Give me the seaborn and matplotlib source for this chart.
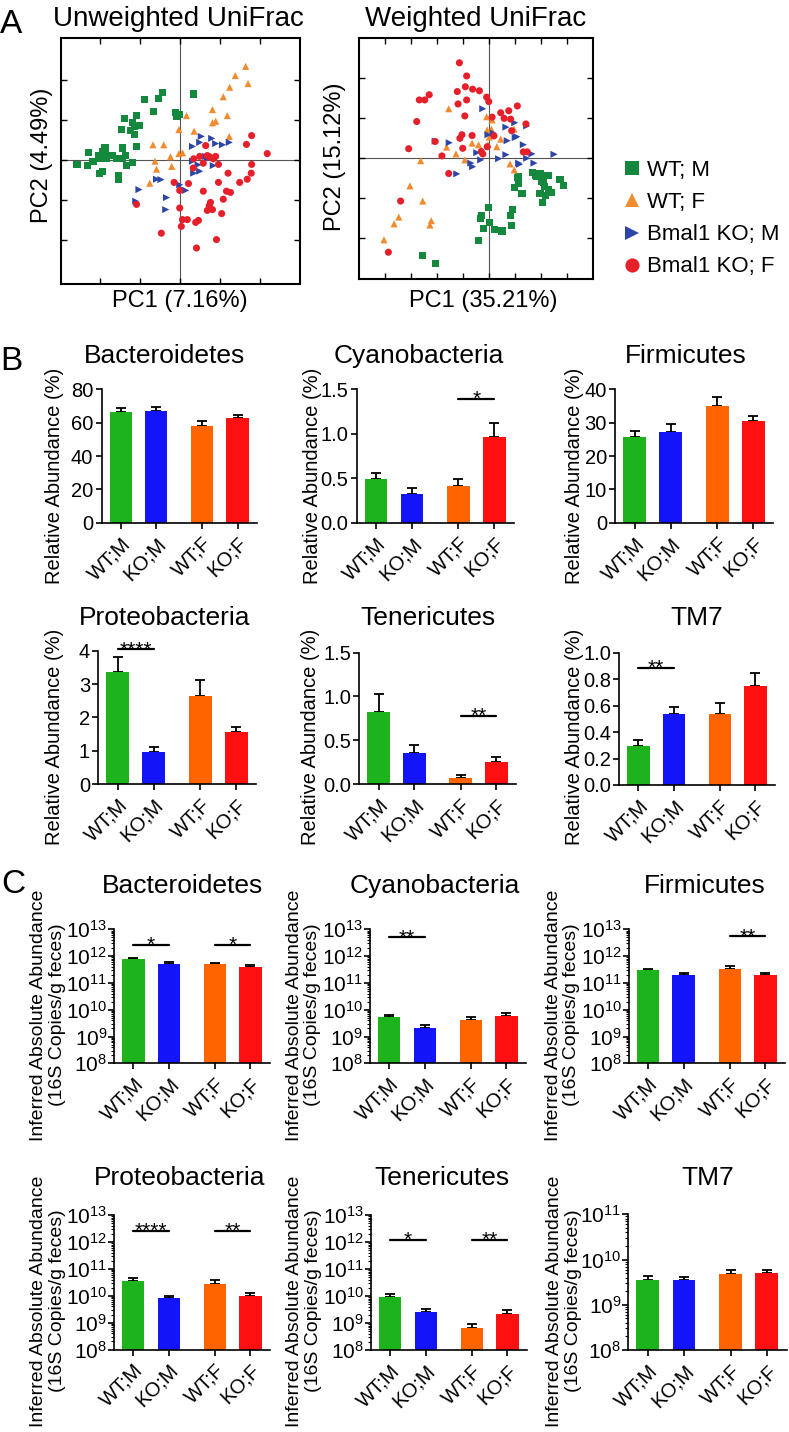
import numpy as np
import pandas as pd
import seaborn as sns
import matplotlib
import matplotlib.pyplot as plt
from matplotlib.ticker import FixedLocator, FormatStrFormatter, LogLocator, NullFormatter

matplotlib.use("Agg")

W, H = 789, 1432

# ---------------- panel A : PCoA scores (tick units) ----------------
SCATTER_GROUPS = ["WT; M", "WT; F", "Bmal1 KO; M", "Bmal1 KO; F"]
SCATTER_COLORS = ["#14893e", "#f28a2e", "#2c46a8", "#e5202a"]
SCATTER_MARKERS = ["s", "^", ">", "o"]

UNW_WTM_X = [-2.58, -2.30, -2.32, -2.18, -2.03, -2.01, -1.93, -1.88, -1.97, -1.84, -1.80, -1.68, -1.59,
             -1.44, -1.36, -1.43, -1.33, -1.19, -1.08, -2.01, -1.94, -1.55, -1.55, -1.47, -1.38, -1.23,
             -1.19, -1.13, -1.09, -1.01, -1.13, -0.90, -0.66, -0.54, -0.43, -0.12, -0.09, -0.01, 0.33]
UNW_WTM_Y = [-0.11, 0.18, -0.14, -0.03, 0.11, 0.03, 0.22, 0.30, 0.09, 0.05, 0.11, 0.11, 0.04,
             0.30, 0.11, 0.03, -0.14, -0.06, 0.33, -0.34, -0.28, -0.39, -0.49, 0.76, 1.03, 0.74,
             0.93, 0.84, 1.11, 0.86, 0.63, 1.51, 1.22, 1.53, 1.69, 1.18, 1.08, 1.13, 1.65]
UNW_WTF_X = [1.64, 1.38, 1.70, 1.24, 1.08, 0.81, 1.18, 0.89, 0.81, 0.16, -0.03, 0.35, 1.23,
             -0.68, -0.41, -0.03, -0.24, -0.63, -0.59, -0.21, -0.76, 0.06]
UNW_WTF_Y = [2.34, 2.11, 1.91, 1.82, 1.58, 1.26, 1.11, 0.97, 0.93, 1.11, 0.76, 0.72, 0.59,
             0.38, 0.38, 0.16, 0.08, -0.03, -0.23, -0.16, -0.58, 0.18]
UNW_KOM_X = [0.53, 0.49, 0.79, 0.89, 1.06, 1.23, 0.31, 0.64, 0.31, 0.45, 0.34, 0.49, 0.83,
             -0.59, -0.48, -1.03, -0.01, 0.06, 0.14, -0.34, -1.11, -0.36, 0.68]
UNW_KOM_Y = [0.59, 0.44, 0.54, 0.41, 0.38, 0.44, 0.34, 0.09, -0.03, -0.12, -0.33, -0.28, -0.14,
             -0.48, -0.49, -0.74, -0.62, -0.73, -0.76, -0.94, -1.03, -1.24, 0.03]
UNW_KOF_X = [1.79, 1.66, 2.18, 0.64, 0.49, 0.68, 0.74, 0.89, 0.83, 0.34, 0.58, 0.96, 1.79, 1.20,
             1.78, 1.68, 1.49, 0.96, -0.15, 0.21, 0.58, -0.01, 1.16, 1.26, 1.08, 0.76, 0.73, 0.81,
             0.68, 1.04, -0.01, 0.06, 0.03, 0.18, 0.39, 0.46, -0.47, 0.41, 0.91, -1.09, 0.33]
UNW_KOF_Y = [0.61, 0.39, 0.16, 0.36, 0.09, 0.11, 0.08, 0.09, 0.03, 0.03, -0.08, -0.11, -0.11, -0.33,
             -0.33, -0.48, -0.56, -0.56, -0.56, -0.59, -0.78, -0.76, -0.78, -0.81, -0.98, -1.06, -1.14, -1.24,
             -1.26, -1.34, -1.20, -1.49, -1.66, -1.49, -1.56, -1.51, -1.83, -2.20, -1.99, -1.11, -0.20]

W_WTM_X = [1.09, 1.12, 1.68, 1.78, 1.96, 1.99, 2.09, -0.03, -0.30, -0.32, 0.01, -0.22, 0.22, 0.50,
           0.81, 0.91, 0.86, -0.40, -2.55, -2.07, 1.83, 2.01, 2.30, 2.73, 2.88, 2.04, 2.12, 2.30,
           2.42, 1.93, 2.17, 2.07, 1.12, 0.99, 1.27]
W_WTM_Y = [-0.48, -0.65, -0.37, -0.45, -0.40, -0.88, -0.62, -1.23, -1.45, -1.51, -1.62, -1.76, -1.80, -1.83,
           -1.45, -1.30, -1.68, -2.07, -2.45, -2.65, -0.47, -0.43, -0.43, -0.53, -0.68, -0.59, -0.72, -0.80,
           -0.87, -0.88, -0.94, -1.12, -0.47, -0.73, -0.90]
W_WTF_X = [-1.55, -0.09, 0.12, -0.07, 0.09, 0.96, 0.45, 0.01, -0.65, -0.40, -0.04, 0.30, -1.63,
           -1.27, -0.93, -2.63, 0.81, -3.04, -2.55, -3.47, -3.65, -2.22, -2.27, -4.04, 0.97]
W_WTF_Y = [1.23, 1.03, 0.95, 0.70, 0.72, 0.72, 0.47, 0.52, 0.37, 0.33, 0.33, 0.28, 0.27,
           0.10, -0.05, -0.07, -0.15, -0.70, -1.08, -1.48, -1.65, -1.57, -1.68, -2.05, -0.30]
W_KOM_X = [-0.24, 0.65, 1.45, 0.17, 1.07, -2.07, -1.53, 0.70, 1.32, -0.47, 0.65, 1.65, -0.70,
           -0.63, -0.32, 0.37, 1.14, 1.73, -1.24, -0.04, 2.50, 1.45, 1.17, 0.99, 1.01]
W_KOM_Y = [1.23, 0.77, 0.80, 0.62, 0.53, 0.42, 0.38, 0.43, 0.33, 0.13, 0.08, 0.10, -0.13,
           -0.22, -0.05, -0.02, -0.13, -0.13, -0.40, 0.58, 0.09, -0.01, -0.16, 0.88, 0.51]
W_KOF_X = [-1.14, -0.86, -0.91, -0.63, -0.37, -1.22, -2.30, -2.68, -2.47, -0.86, -1.19, -0.09, -0.01,
           1.09, 0.45, 0.76, 0.58, 0.83, 0.12, -0.93, -2.78, -1.04, -1.12, -0.65, -2.07, -3.09, -1.01,
           -1.81, -0.30, -0.24, -1.55, -3.40, -3.87, -0.07, 0.19, 1.32, 1.47, 1.42, 0.87]
W_KOF_Y = [2.38, 2.05, 1.78, 1.72, 1.68, 1.66, 1.58, 1.45, 1.45, 1.45, 1.35, 1.52, 1.41,
           1.30, 1.13, 1.18, 0.99, 0.97, 1.02, 1.05, 0.91, 0.58, 0.49, 0.56, 0.41, 0.23, 0.24,
           0.05, 0.16, 0.10, -0.39, -1.08, -2.36, 0.28, 0.55, 0.15, 0.15, 0.85, 0.68]

# ---------------- panels B / C : bars ----------------
GROUPS = ["WT;M", "KO;M", "WT;F", "KO;F"]
BAR_POS = [0, 1, 2.3, 3.3]
BAR_COLORS = ["#1db31d", "#1414f8", "#ff6400", "#ff1010"]

REL_NAMES = ["Bacteroidetes", "Cyanobacteria", "Firmicutes", "Proteobacteria", "Tenericutes", "TM7"]
REL_MEAN = [[66.2, 67.0, 57.8, 62.6],
            [0.487, 0.322, 0.412, 0.967],
            [25.8, 27.3, 35.0, 30.5],
            [3.36, 0.95, 2.63, 1.55],
            [0.822, 0.354, 0.065, 0.247],
            [0.292, 0.537, 0.537, 0.751]]
REL_SEM = [[2.4, 2.6, 3.4, 2.0],
           [0.075, 0.064, 0.079, 0.15],
           [1.8, 2.3, 2.8, 1.6],
           [0.44, 0.17, 0.50, 0.17],
           [0.21, 0.091, 0.038, 0.065],
           [0.048, 0.055, 0.085, 0.093]]
REL_TICKS = [[0, 20, 40, 60, 80], [0, 0.5, 1.0, 1.5], [0, 10, 20, 30, 40],
             [0, 1, 2, 3, 4], [0, 0.5, 1.0, 1.5], [0, 0.2, 0.4, 0.6, 0.8, 1.0]]
REL_FMT = ["%d", "%.1f", "%d", "%d", "%.1f", "%.1f"]
REL_SIG = [[], [(2, 3, 1.387, "*")], [], [(0, 1, 4.04, "****")],
           [(2, 3, 0.78, "**")], [(0, 1, 0.882, "**")]]

ABS_MEAN = [[7.6e11, 5.1e11, 5.1e11, 3.9e11],
            [5.2e9, 2.0e9, 4.2e9, 6.0e9],
            [3.0e11, 2.0e11, 3.4e11, 2.0e11],
            [3.6e10, 7.9e9, 2.8e10, 1.0e10],
            [9.5e9, 2.6e9, 6.3e8, 2.2e9],
            [3.5e9, 3.5e9, 4.9e9, 5.0e9]]
ABS_SEM = [[1.1e11, 0.8e11, 0.4e11, 0.7e11],
           [1.1e9, 0.6e9, 1.0e9, 1.4e9],
           [0.4e11, 0.3e11, 0.7e11, 0.3e11],
           [0.8e10, 1.9e9, 0.9e10, 0.26e10],
           [2.8e9, 0.8e9, 3.0e8, 0.8e9],
           [0.9e9, 0.6e9, 1.1e9, 0.9e9]]
ABS_TOP = [1e13, 1e13, 1e13, 1e13, 1e13, 1e11]
ABS_SIG = [[(0, 1, 2.6e12, "*"), (2, 3, 2.6e12, "*")],
           [(0, 1, 5.0e12, "**")],
           [(2, 3, 5.4e12, "**")],
           [(0, 1, 2.5e12, "****"), (2, 3, 2.5e12, "**")],
           [(0, 1, 1.2e12, "*"), (2, 3, 1.2e12, "**")],
           []]

sns.set_style("ticks")
plt.rcParams["font.family"] = ["Liberation Sans", "DejaVu Sans"]
plt.rcParams["mathtext.fontset"] = "custom"
plt.rcParams["mathtext.rm"] = "Liberation Sans"
plt.rcParams["mathtext.default"] = "regular"
plt.rcParams["text.color"] = "black"
plt.rcParams["axes.edgecolor"] = "black"
plt.rcParams["xtick.color"] = "black"
plt.rcParams["ytick.color"] = "black"

fig = plt.figure(figsize=(W / 100, H / 100), dpi=100)


def px_axes(left, top, right, bottom):
    return fig.add_axes([left / W, 1 - bottom / H, (right - left) / W, (bottom - top) / H])


def ftext(x, y, s, **kw):
    fig.text(x / W, 1 - y / H, s, **kw)


def scatter_panel(ax, xs, ys, xlim, ylim, xticks, yticks, legend):
    rows = []
    for g, x, y in zip(SCATTER_GROUPS, xs, ys):
        rows += [(g, a, b) for a, b in zip(x, y)]
    df = pd.DataFrame(rows, columns=["group", "PC1", "PC2"])
    sns.scatterplot(data=df, x="PC1", y="PC2", hue="group", style="group",
                    hue_order=SCATTER_GROUPS, style_order=SCATTER_GROUPS,
                    palette=SCATTER_COLORS, markers=SCATTER_MARKERS,
                    s=26, linewidth=0, legend=legend, ax=ax)
    ax.axhline(0, color="#555555", lw=0.8, zorder=0)
    ax.axvline(0, color="#555555", lw=0.8, zorder=0)
    ax.set_xlim(*xlim)
    ax.set_ylim(*ylim)
    ax.set_xticks(xticks)
    ax.set_yticks(yticks)
    ax.tick_params(direction="in", length=4, width=1, top=True, right=True,
                   labelbottom=False, labelleft=False)
    ax.set_xlabel("")
    ax.set_ylabel("")
    for s in ax.spines.values():
        s.set_linewidth(1.5)


def bar_panel(ax, means, sems, log, ylim, sigs):
    sns.barplot(x=BAR_POS, y=means, hue=GROUPS, palette=BAR_COLORS, native_scale=True,
                orient="x", width=0.63, dodge=False, errorbar=None, legend=False,
                saturation=1, linewidth=0, ax=ax)
    ax.errorbar(BAR_POS, means, yerr=[np.zeros(4), sems], fmt="none", ecolor="black",
                elinewidth=1.3, capsize=3.8, capthick=1.3, zorder=0.5)
    if log:
        ax.set_yscale("log", nonpositive="clip")
    ax.set_xlim(-0.54, 3.85)
    ax.set_ylim(*ylim)
    ax.set_xticks(BAR_POS)
    ax.set_xticklabels(GROUPS, rotation=45, ha="right", rotation_mode="anchor")
    sns.despine(ax=ax)
    for s in ["left", "bottom"]:
        ax.spines[s].set_linewidth(1.2)
    ax.tick_params(axis="both", which="major", direction="out", length=4, width=1.2,
                   labelsize=14.5, pad=2)
    ax.tick_params(axis="x", pad=4)
    for i, j, y, txt in sigs:
        x0, x1 = BAR_POS[i], BAR_POS[j]
        ax.plot([x0, x1], [y, y], color="black", lw=1.6, clip_on=False)
        ax.annotate(txt, xy=((x0 + x1) / 2, y), xytext=(0, -4.3), textcoords="offset points",
                    ha="center", va="baseline", fontsize=15, annotation_clip=False)
    ax.set_xlabel("")
    ax.set_ylabel("")


# ---- panel A ----
ax_u = px_axes(61, 38, 300, 284)
scatter_panel(ax_u, [UNW_WTM_X, UNW_WTF_X, UNW_KOM_X, UNW_KOF_X],
              [UNW_WTM_Y, UNW_WTF_Y, UNW_KOM_Y, UNW_KOF_Y],
              (-2.98, 3.0), (-3.1, 3.05), [-2, -1, 0, 1, 2], [-2, -1, 0, 1, 2], False)
ax_w = px_axes(359, 38, 593, 279)
scatter_panel(ax_w, [W_WTM_X, W_WTF_X, W_KOM_X, W_KOF_X],
              [W_WTM_Y, W_WTF_Y, W_KOM_Y, W_KOF_Y],
              (-5.0, 4.0), (-3.03, 3.0), [-4, -3, -2, -1, 0, 1, 2, 3], [-2, -1, 0, 1, 2], True)
sns.move_legend(ax_w, "center left", bbox_to_anchor=(1.08, 0.25), frameon=False, title=None,
                fontsize=16, markerscale=2.0, handletextpad=0.2, labelspacing=0.5,
                handlelength=1.0, borderaxespad=0)

ftext(178, 26, "Unweighted UniFrac", fontsize=20, ha="center", va="baseline")
ftext(476, 26, "Weighted UniFrac", fontsize=20, ha="center", va="baseline")
ftext(180, 301, "PC1 (7.16%)", fontsize=17, ha="center", va="center")
ftext(483, 301, "PC1 (35.21%)", fontsize=17, ha="center", va="center")
ftext(42, 155, "PC2 (4.49%)", fontsize=17, ha="center", va="center", rotation=90)
ftext(335, 157, "PC2 (15.12%)", fontsize=17, ha="center", va="center", rotation=90)

# ---- panel B ----
B_BOXES = [(101.7, 389.3, 257, 522.7), (356.7, 389.3, 514, 522.7), (615.3, 389.3, 773, 522.7),
           (98.3, 650.7, 256, 784), (359.3, 652.7, 516, 784), (619.3, 652.7, 775, 785)]
B_TITLE_XY = [(165, 363), (419, 363), (686, 363), (164.5, 625), (428, 625), (697, 625)]
B_YLAB_XY = [(55, 476), (312, 476), (574, 476), (55, 737), (311, 737), (575, 737)]
for k in range(6):
    ax = px_axes(*B_BOXES[k])
    ticks = REL_TICKS[k]
    bar_panel(ax, REL_MEAN[k], REL_SEM[k], False, (0, ticks[-1]), REL_SIG[k])
    ax.yaxis.set_major_locator(FixedLocator(ticks))
    ax.yaxis.set_major_formatter(FormatStrFormatter(REL_FMT[k]))
    ftext(*B_TITLE_XY[k], REL_NAMES[k], fontsize=19, ha="center", va="baseline")
    ftext(*B_YLAB_XY[k], "Relative Abundance (%)", fontsize=14.5, ha="center", va="center",
          rotation=90)

# ---- panel C ----
C_BOXES = [(114.3, 929.3, 270, 1063.3), (370, 929.3, 526, 1063.3), (628.7, 929.3, 785, 1063.3),
           (114, 1215, 270, 1349.5), (371, 1215, 527, 1350), (628.3, 1214.3, 786.7, 1350)]
C_TITLE_XY = [(182, 893), (435, 893), (705, 893), (180, 1185), (442, 1185), (708, 1185)]
C_YLAB_XY = [(48, 1015), (303.5, 1015), (562.5, 1015), (48, 1301), (304, 1301), (564, 1301)]
for k in range(6):
    ax = px_axes(*C_BOXES[k])
    bar_panel(ax, ABS_MEAN[k], ABS_SEM[k], True, (1e8, ABS_TOP[k]), ABS_SIG[k])
    ax.yaxis.set_major_locator(LogLocator(base=10, numticks=12))
    ax.yaxis.set_minor_locator(LogLocator(base=10, subs=np.arange(2, 10), numticks=12))
    ax.yaxis.set_minor_formatter(NullFormatter())
    ax.tick_params(axis="y", which="minor", direction="out", length=2.5, width=0.8)
    ax.tick_params(axis="y", which="major", labelsize=15, pad=1)
    ftext(*C_TITLE_XY[k], REL_NAMES[k], fontsize=19, ha="center", va="baseline")
    ftext(*C_YLAB_XY[k], "Inferred Absolute Abundance\n(16S Copies/g feces)", fontsize=14,
          ha="center", va="center", rotation=90, linespacing=1.1)

# panel letters
ftext(0, 33, "A", fontsize=24, ha="left", va="baseline")
ftext(0, 370, "B", fontsize=24, ha="left", va="baseline")
ftext(1, 893, "C", fontsize=24, ha="left", va="baseline")

fig.savefig("out.png", dpi=100)
